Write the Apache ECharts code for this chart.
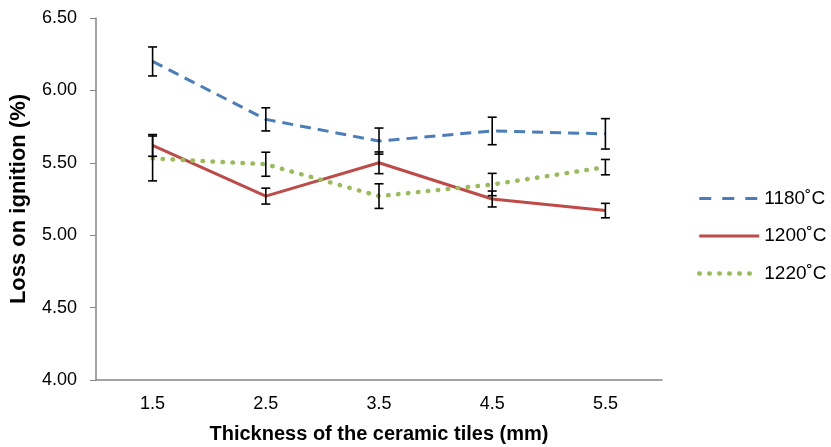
<!DOCTYPE html>
<html lang="en">
<head>
    <meta charset="UTF-8">
    <title>Loss on ignition</title>
    <script src="https://cdn.jsdelivr.net/npm/echarts@6/dist/echarts.min.js"></script>
    <style>
        html, body { margin: 0; padding: 0; background: #fff; }
    </style>
</head>
<body>
<div id="main" style="width: 831px;height:447px;"></div>

<script type="text/javascript">
    // thickness categories (mm)
    var thickness = ['1.5', '2.5', '3.5', '4.5', '5.5'];
    var seriesNames = ['1180˚C', '1200˚C', '1220˚C'];

    // loss on ignition (%)
    var loi1180 = [6.20, 5.80, 5.65, 5.72, 5.70];
    var loi1200 = [5.62, 5.27, 5.50, 5.25, 5.17];
    var loi1220 = [5.53, 5.49, 5.27, 5.35, 5.47];

    // error (+/-)
    var err1180 = [0.10, 0.08, 0.09, 0.095, 0.105];
    var err1200 = [0.075, 0.055, 0.075, 0.055, 0.05];
    var err1220 = [0.155, 0.083, 0.085, 0.077, 0.053];

    var yTicks = [4.0, 6.5, 0.5]; // min, max, interval

    function errData(vals, errs) {
        return vals.map(function (v, i) { return [i, v - errs[i], v + errs[i]]; });
    }

    function renderErr(params, api) {
        var lo = api.coord([api.value(0), api.value(1)]);
        var hi = api.coord([api.value(0), api.value(2)]);
        var w = 4.5;
        var style = { stroke: '#000', lineWidth: 1.6 };
        return {
            type: 'group',
            children: [
                { type: 'line', shape: { x1: hi[0], y1: hi[1], x2: lo[0], y2: lo[1] }, style: style },
                { type: 'line', shape: { x1: hi[0] - w, y1: hi[1], x2: hi[0] + w, y2: hi[1] }, style: style },
                { type: 'line', shape: { x1: lo[0] - w, y1: lo[1], x2: lo[0] + w, y2: lo[1] }, style: style }
            ]
        };
    }

    var myChart = echarts.init(document.getElementById('main'));
    var font = '"Liberation Sans", Arial, sans-serif';

    myChart.setOption({
        animation: false,
        textStyle: { fontFamily: font },
        grid: { left: 96, top: 18, right: 169, bottom: 67, outerBoundsMode: 'none' },
        legend: {
            data: [
                { name: seriesNames[0], lineStyle: { width: 3, type: [12, 11] } },
                { name: seriesNames[1], lineStyle: { width: 3 } },
                { name: seriesNames[2], lineStyle: { width: 4.5 } }
            ],
            orient: 'vertical',
            left: 692,
            top: 184,
            itemWidth: 60,
            itemHeight: 18,
            itemGap: 18.5,
            itemStyle: { opacity: 0 },
            textStyle: { fontSize: 19, color: '#000', fontFamily: font }
        },
        xAxis: {
            type: 'category',
            data: thickness,
            boundaryGap: true,
            name: 'Thickness of the ceramic tiles (mm)',
            nameLocation: 'middle',
            nameGap: 44,
            nameTextStyle: { fontSize: 20, fontWeight: 'bold', color: '#000', fontFamily: font },
            axisLine: { lineStyle: { color: '#868686', width: 1.5 } },
            axisTick: { show: false },
            axisLabel: { fontSize: 18, color: '#000', margin: 15, fontFamily: font },
            splitLine: { show: false }
        },
        yAxis: {
            type: 'value',
            min: yTicks[0],
            max: yTicks[1],
            interval: yTicks[2],
            name: 'Loss on ignition (%)',
            nameLocation: 'middle',
            nameGap: 66,
            nameTextStyle: { fontSize: 22, fontWeight: 'bold', color: '#000', fontFamily: font },
            axisLine: { show: true, lineStyle: { color: '#868686', width: 1.5 } },
            axisTick: { show: true, length: 6, lineStyle: { color: '#868686' } },
            axisLabel: {
                fontSize: 18, color: '#000', margin: 19, fontFamily: font,
                formatter: function (v) { return v.toFixed(2); }
            },
            splitLine: { show: false }
        },
        series: [
            {
                name: seriesNames[0], type: 'line', data: loi1180, symbol: 'none',
                lineStyle: { color: '#4A7EBB', width: 3, type: [11, 7] },
                itemStyle: { color: '#4A7EBB' }, z: 3
            },
            {
                name: seriesNames[1], type: 'line', data: loi1200, symbol: 'none',
                lineStyle: { color: '#BE4B48', width: 3, type: 'solid' },
                itemStyle: { color: '#BE4B48' }, z: 3
            },
            {
                name: seriesNames[2], type: 'line', data: loi1220, symbol: 'none',
                lineStyle: { color: '#9BBB59', width: 4.5, type: [0.5, 9.5], cap: 'round' },
                itemStyle: { color: '#9BBB59' }, z: 3
            },
            { type: 'custom', renderItem: renderErr, data: errData(loi1180, err1180), z: 4, silent: true },
            { type: 'custom', renderItem: renderErr, data: errData(loi1200, err1200), z: 4, silent: true },
            { type: 'custom', renderItem: renderErr, data: errData(loi1220, err1220), z: 4, silent: true }
        ]
    });
</script>
</body>
</html>
